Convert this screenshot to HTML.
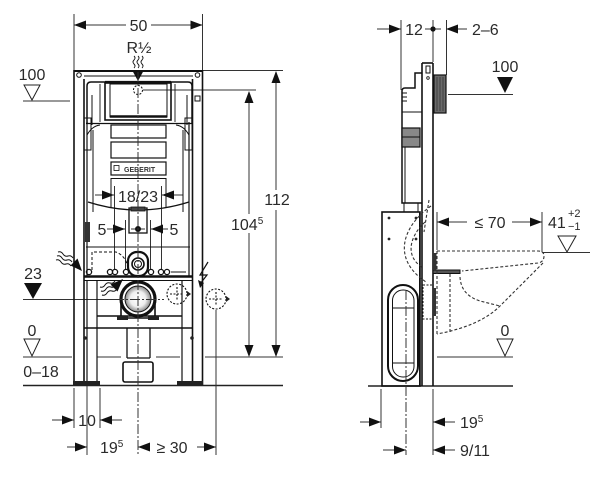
<!DOCTYPE html>
<html><head><meta charset="utf-8">
<style>
html,body{margin:0;padding:0;background:#fff;width:602px;height:478px;overflow:hidden}
svg text{font-family:"Liberation Sans",sans-serif;fill:#2a2a2a;font-size:16px}
</style></head>
<body>
<svg width="602" height="478" viewBox="0 0 602 478" xmlns="http://www.w3.org/2000/svg">
<defs>
<radialGradient id="pg" cx="0.5" cy="0.5" r="0.5">
<stop offset="0" stop-color="#fff"/><stop offset="0.6" stop-color="#eee"/><stop offset="1" stop-color="#888"/>
</radialGradient>
</defs>

<!-- ================= LEFT VIEW: DIMENSIONS ================= -->
<g stroke="#333" stroke-width="1" fill="none">
  <line x1="74" y1="14" x2="74" y2="70"/><line x1="202.5" y1="14" x2="202.5" y2="70"/>
  <line x1="74" y1="25" x2="126" y2="25"/><line x1="151" y1="25" x2="202" y2="25"/>
  <line x1="23" y1="101" x2="70" y2="101"/>
  <polygon points="24,85 40,85 32,100" stroke="#222"/>
  <line x1="203" y1="70.5" x2="283" y2="70.5"/>
  <line x1="276" y1="72" x2="276" y2="190"/><line x1="276" y1="210" x2="276" y2="355"/>
  <line x1="143" y1="90" x2="256" y2="90"/>
  <line x1="249" y1="92" x2="249" y2="214"/><line x1="249" y1="233" x2="249" y2="355"/>
  <line x1="23" y1="357" x2="72" y2="357"/><line x1="97" y1="357" x2="121" y2="357"/>
  <line x1="156" y1="357" x2="180" y2="357"/><line x1="205" y1="357" x2="283" y2="357"/>
  <polygon points="24,339 40,339 32,356" stroke="#222"/>
  <line x1="23" y1="385.5" x2="283" y2="385.5" stroke="#222" stroke-width="1.4"/>
  <line x1="23" y1="299.5" x2="114" y2="299.5"/>
  <line x1="74" y1="388" x2="74" y2="428"/><line x1="100" y1="388" x2="100" y2="428"/>
  <line x1="87" y1="386" x2="87" y2="455"/>
  <line x1="216" y1="310" x2="216" y2="455"/>
  <line x1="52" y1="420" x2="74" y2="420"/><line x1="100" y1="420" x2="122" y2="420"/>
  <line x1="67" y1="447" x2="87" y2="447"/>
  <line x1="138" y1="447" x2="147" y2="447"/><line x1="197" y1="447" x2="216" y2="447"/>
  <line x1="95" y1="195" x2="114" y2="195"/><line x1="162" y1="195" x2="183" y2="195"/>
  <line x1="114.5" y1="186" x2="114.5" y2="270"/><line x1="161.5" y1="186" x2="161.5" y2="270"/>
  <line x1="107" y1="229" x2="125" y2="229"/><line x1="151" y1="229" x2="168" y2="229"/>
  <line x1="131" y1="229" x2="145" y2="229"/>
  <line x1="125.5" y1="220" x2="125.5" y2="270"/><line x1="150.5" y1="220" x2="150.5" y2="270"/>
</g>
<g fill="#111" stroke="none">
  <polygon points="86,20.5 74,25 86,29.5"/><polygon points="190.5,20.5 202.5,25 190.5,29.5"/>
  <polygon points="271.5,83 276,71 280.5,83"/><polygon points="271.5,345 276,357 280.5,345"/>
  <polygon points="244.5,103 249,91 253.5,103"/><polygon points="244.5,345 249,357 253.5,345"/>
  <polygon points="24,283 42,283 33,299"/>
  <polygon points="62,415.5 74,420 62,424.5"/><polygon points="112,415.5 100,420 112,424.5"/>
  <polygon points="75,442.5 87,447 75,451.5"/>
  <polygon points="150,442.5 138,447 150,451.5"/><polygon points="204,442.5 216,447 204,451.5"/>
  <polygon points="102,190.5 114,195 102,199.5"/><polygon points="174,190.5 162,195 174,199.5"/>
  <polygon points="113,224.5 125,229 113,233.5"/><polygon points="163,224.5 151,229 163,233.5"/>
  <circle cx="138" cy="229" r="3"/>
  <polygon points="132,70 144,70 138,81"/>
</g>

<!-- ================= LEFT VIEW: FRAME ================= -->
<g stroke="#111" stroke-width="1.6" fill="none">
  <line x1="74" y1="70" x2="74" y2="385"/><line x1="84" y1="79" x2="84" y2="385"/>
  <line x1="192.5" y1="79" x2="192.5" y2="385"/><line x1="202.5" y1="70" x2="202.5" y2="385"/>
  <line x1="74" y1="71" x2="203" y2="71" stroke-width="2"/>
  <line x1="84" y1="76" x2="193" y2="76" stroke-width="1"/>
  <circle cx="79" cy="75" r="2.3" stroke-width="1"/><circle cx="197.5" cy="75" r="2.3" stroke-width="1"/>
  <rect x="195" y="96" width="5" height="5" stroke-width="1"/>
  <!-- top chamber -->
  <path d="M87,124 L87,86 Q87,82 91,82 L188,82 Q192,82 192,86 L192,124" stroke-width="1.5"/>
  <line x1="100" y1="84" x2="100" y2="122" stroke-width="0.9"/><line x1="175" y1="84" x2="175" y2="122" stroke-width="0.9"/>
  <rect x="105" y="83" width="66" height="37" stroke-width="1.6"/>
  <rect x="110" y="84" width="57" height="33" stroke-width="1"/>
  <line x1="110" y1="116.5" x2="167" y2="116.5" stroke-width="2.4"/>
  <line x1="105" y1="82" x2="171" y2="82" stroke-width="2.2"/>
  <line x1="92" y1="95" x2="92" y2="125" stroke-width="1"/><line x1="187" y1="95" x2="187" y2="125" stroke-width="1"/>
  <line x1="86" y1="123.5" x2="192" y2="123.5" stroke-width="1.2"/>
  <path d="M87,135 Q92,126 100,125" stroke-width="1"/><path d="M189,135 Q184,126 176,125" stroke-width="1"/>
  <!-- body -->
  <line x1="87" y1="122" x2="87" y2="277" stroke-width="1.2"/><line x1="93" y1="130" x2="93" y2="212" stroke-width="1"/>
  <line x1="189" y1="122" x2="189" y2="277" stroke-width="1.2"/><line x1="183" y1="130" x2="183" y2="212" stroke-width="1"/>
  <rect x="84" y="118" width="7" height="32" stroke-width="1"/><rect x="185" y="118" width="7" height="32" stroke-width="1"/>
  <rect x="111" y="125" width="55" height="13" stroke-width="1.2"/>
  <rect x="111" y="142" width="55" height="16" stroke-width="1.2"/>
  <rect x="111" y="162" width="55" height="13" stroke-width="1.2"/>
  <rect x="114" y="165.5" width="5" height="5" stroke-width="0.8"/>
  <line x1="111" y1="178.5" x2="166" y2="178.5" stroke-width="1"/>
  <line x1="111" y1="178" x2="111" y2="208" stroke-width="1"/><line x1="166" y1="178" x2="166" y2="208" stroke-width="1"/>
  <path d="M88,202 Q138,218 189,202" stroke-width="1.3"/>
  <rect x="129" y="208" width="18" height="25" stroke-width="1.3"/>
  <rect x="131" y="207" width="14" height="4" fill="#444" stroke-width="0.8"/>
  <line x1="86" y1="247" x2="190" y2="247" stroke-width="1"/>
  <line x1="84" y1="276.5" x2="193" y2="276.5" stroke-width="2.4"/>
  <line x1="84" y1="280.5" x2="193" y2="280.5" stroke-width="1"/>
  <line x1="97" y1="316" x2="182" y2="316" stroke-width="1.4"/>
  <line x1="84" y1="328" x2="193" y2="328" stroke-width="1.4"/>
  <line x1="87" y1="280" x2="87" y2="385" stroke-width="1.2"/><line x1="97" y1="280" x2="97" y2="385" stroke-width="1.2"/>
  <line x1="182" y1="280" x2="182" y2="385" stroke-width="1.2"/>
  <line x1="127" y1="328" x2="127" y2="358" stroke-width="1.3"/><line x1="150" y1="328" x2="150" y2="358" stroke-width="1.3"/>
  <line x1="127" y1="358" x2="150" y2="358" stroke-width="1.3"/>
  <rect x="123" y="362" width="30" height="20" rx="2" stroke-width="1.6"/>
  <g stroke-width="1.3">
    <circle cx="89" cy="272" r="2.6"/><circle cx="110" cy="272" r="2.6"/><circle cx="115" cy="272" r="2.6"/>
    <circle cx="126" cy="272" r="2.6"/><circle cx="151" cy="272" r="2.6"/><circle cx="161" cy="272" r="2.6"/><circle cx="167" cy="272" r="2.6"/>
  </g>
  <line x1="171" y1="272" x2="186" y2="272" stroke-width="1"/>
  <path d="M92,270 L92,252 L116,252 Q126,256 128,268" stroke-width="1" stroke-dasharray="3,2"/>
  <rect x="128" y="252" width="20" height="24" rx="9" fill="#fff" stroke-width="2.2"/>
  <circle cx="138" cy="264" r="6" stroke-width="1.6"/><circle cx="138" cy="264" r="3.5" stroke-width="1"/>
  <path d="M121,304 L121,318 L155,318 L155,304" stroke-width="1.6"/>
  <circle cx="138" cy="299" r="17" fill="#fff" stroke-width="3.2"/>
  <circle cx="138" cy="299" r="13" fill="url(#pg)" stroke-width="1"/>
  <rect x="117" y="316" width="11" height="4" fill="#222" stroke="none"/>
  <rect x="148" y="316" width="11" height="4" fill="#222" stroke="none"/>
  <rect x="73" y="381" width="27" height="4" fill="#222" stroke="none"/>
  <rect x="177" y="381" width="26" height="4" fill="#222" stroke="none"/>
  <circle cx="85" cy="338" r="1.8" fill="#222" stroke="none"/><circle cx="192" cy="338" r="1.8" fill="#222" stroke="none"/>
  <rect x="85" y="222" width="5" height="20" fill="#333" stroke="none"/>
  <g stroke-width="1.1" stroke-dasharray="2,1.5">
    <circle cx="177" cy="294" r="10"/><line x1="170" y1="294" x2="184" y2="294"/><line x1="177" y1="287" x2="177" y2="301"/>
    <circle cx="216" cy="299" r="10"/><line x1="209" y1="299" x2="223" y2="299"/><line x1="216" y1="292" x2="216" y2="306"/>
  </g>
  <polygon points="187,291 191,294 187,297" fill="#222" stroke="none"/>
  <polygon points="226,296 230,299 226,302" fill="#222" stroke="none"/>
  <polyline points="208,262 200,275 207,275 200,284" stroke-width="1.2"/>
  <path d="M58,252 q3,-1 5,2 q2,3 5,2 q3,-1 5,2 M57,256 q3,-1 5,2 q2,3 5,2 q3,-1 5,2 M56,260 q3,-1 5,2 q2,3 5,2 q3,-1 5,2" stroke-width="1"/>
  <path d="M100,287 q3,1 5,-2 q2,-3 5,-2 q3,1 5,-2 M101,291 q3,1 5,-2 q2,-3 5,-2 q3,1 5,-2 M102,295 q3,1 5,-2 q2,-3 5,-2 q3,1 5,-2" stroke-width="1"/>
  <path d="M134,56 q2,2 0,4 q-2,2 0,4 q2,2 0,4 M138,56 q2,2 0,4 q-2,2 0,4 q2,2 0,4 M142,56 q2,2 0,4 q-2,2 0,4 q2,2 0,4" stroke-width="0.9"/>
  <circle cx="138" cy="90" r="4.5" stroke-width="1" stroke-dasharray="2,1.5"/>
</g>
<g fill="#111">
  <polygon points="200,288 198,280 204,283"/>
  <polygon points="82,271 70.5,265.5 77.5,258.5"/>
  <polygon points="123,279 110.5,284.5 117.5,291.5"/>
</g>
<text x="124" y="172" style="font-size:7px;font-weight:bold;fill:#333">GEBERIT</text>
<g stroke="#333" stroke-width="1" stroke-dasharray="10,2,2,2" fill="none">
  <line x1="138" y1="72" x2="138" y2="455"/>
  <line x1="114" y1="299.5" x2="164" y2="299.5"/>
</g>

<text x="138.5" y="31" text-anchor="middle">50</text>
<text x="139" y="53" text-anchor="middle">R½</text>
<text x="32" y="80" text-anchor="middle">100</text>
<text x="277" y="205" text-anchor="middle">112</text>
<text x="231" y="230">104<tspan font-size="10" dy="-6">5</tspan></text>
<text x="138" y="202" text-anchor="middle">18/23</text>
<text x="102" y="235" text-anchor="middle">5</text>
<text x="174" y="235" text-anchor="middle">5</text>
<text x="33" y="279" text-anchor="middle">23</text>
<text x="32" y="336" text-anchor="middle">0</text>
<text x="41" y="377" text-anchor="middle">0–18</text>
<text x="87" y="426" text-anchor="middle">10</text>
<text x="100" y="453">19<tspan font-size="10" dy="-6">5</tspan></text>
<text x="172" y="453" text-anchor="middle">≥ 30</text>

<!-- ================= RIGHT VIEW ================= -->
<g stroke="#333" stroke-width="1" fill="none">
  <line x1="401" y1="20" x2="401" y2="90"/><line x1="433" y1="20" x2="433" y2="62"/><line x1="446.5" y1="20" x2="446.5" y2="75"/>
  <line x1="377" y1="29" x2="401" y2="29"/><line x1="425" y1="29" x2="441" y2="29"/><line x1="446" y1="29" x2="467" y2="29"/>
  <line x1="448" y1="94.5" x2="513" y2="94.5"/>
  <line x1="437" y1="212" x2="437" y2="250"/><line x1="542" y1="212" x2="542" y2="252"/>
  <line x1="437" y1="222" x2="467" y2="222"/><line x1="512" y1="222" x2="542" y2="222"/>
  <line x1="543" y1="252.5" x2="590" y2="252.5"/>
  <polygon points="558,236 576,236 567,252" stroke="#222"/>
  <line x1="437" y1="357" x2="513" y2="357"/>
  <polygon points="497,339 513,339 505,356" stroke="#222"/>
  <line x1="368" y1="386" x2="513" y2="386" stroke="#222" stroke-width="1.4"/>
  <line x1="381" y1="389" x2="381" y2="428"/><line x1="433" y1="389" x2="433" y2="455"/>
  <line x1="360" y1="422" x2="381" y2="422"/><line x1="433" y1="422" x2="455" y2="422"/>
  <line x1="383" y1="450" x2="406" y2="450"/><line x1="433" y1="450" x2="455" y2="450"/>
</g>
<g fill="#111">
  <polygon points="389,24.5 401,29 389,33.5"/><polygon points="458,24.5 446,29 458,33.5"/>
  <circle cx="433" cy="29" r="2.6"/>
  <polygon points="497,77 513,77 505,93"/>
  <polygon points="449,217.5 437,222 449,226.5"/><polygon points="530,217.5 542,222 530,226.5"/>
  <polygon points="369,417.5 381,422 369,426.5"/><polygon points="445,417.5 433,422 445,426.5"/>
  <polygon points="394,445.5 406,450 394,454.5"/><polygon points="445,445.5 433,450 445,454.5"/>
</g>
<g stroke="#111" stroke-width="1.6" fill="none">
  <line x1="422" y1="63" x2="422" y2="386"/><line x1="433" y1="63" x2="433" y2="386"/>
  <line x1="422" y1="63" x2="433" y2="63"/>
  <line x1="419.5" y1="212" x2="419.5" y2="386" stroke-width="1"/>
  <rect x="426" y="66" width="4" height="7" stroke-width="1"/>
  <circle cx="428" cy="78" r="1.3" stroke-width="0.8"/>
  <rect x="434" y="75" width="12" height="38" fill="#6a6a6a" stroke-width="1.2"/>
  <g stroke="#333" stroke-width="0.8">
    <line x1="437" y1="77" x2="437" y2="111"/><line x1="440" y1="77" x2="440" y2="111"/><line x1="443" y1="77" x2="443" y2="111"/>
  </g>
  <path d="M422,73 L415,73 L415,88 L405,88 Q402,88 402,91 L402,203 L422,203" stroke-width="1.5"/>
  <line x1="402" y1="112" x2="422" y2="112" stroke-width="1"/>
  <rect x="402" y="128" width="18" height="19" fill="#888" stroke-width="1.2"/>
  <line x1="402" y1="137" x2="420" y2="137" stroke-width="1"/>
  <line x1="405" y1="147" x2="405" y2="203" stroke-width="1"/>
  <g stroke-width="1"><line x1="402" y1="93" x2="407" y2="93"/><line x1="402" y1="97" x2="407" y2="97"/><line x1="402" y1="101" x2="407" y2="101"/></g>
  <rect x="404" y="203" width="14" height="9" stroke-width="1"/>
  <rect x="382" y="212" width="38" height="174" stroke-width="1.6"/>
  <rect x="388" y="285" width="30" height="96" rx="15" stroke-width="2"/>
  <rect x="392.5" y="290" width="21.5" height="87" rx="10.5" stroke-width="1"/>
  <line x1="392" y1="308" x2="414" y2="308" stroke-width="1"/>
  <line x1="392" y1="363" x2="414" y2="363" stroke-width="1"/>
  <rect x="433" y="270" width="27" height="3.5" fill="#555" stroke-width="1"/>
  <rect x="433" y="253" width="3.5" height="17" fill="#333" stroke="none"/>
  <rect x="423" y="285" width="10" height="34" fill="none" stroke-width="1" stroke-dasharray="2,1.5"/>
  <rect x="433" y="288" width="3" height="28" fill="#333" stroke="none"/>
</g>
<g fill="#222">
  <circle cx="389" cy="218" r="1.4"/><circle cx="416" cy="218" r="1.4"/>
  <circle cx="389" cy="239" r="1.4"/><circle cx="416" cy="239" r="1.4"/>
</g>
<g stroke="#333" stroke-width="1.1" fill="none" stroke-dasharray="3,2">
  <path d="M431,206 C404,225 390,258 426,282"/>
  <path d="M425,222 C410,236 404,256 423,268"/>
  <line x1="429" y1="200" x2="424" y2="232"/>
  <path d="M437,251 L538,251 Q544,251 544,256 Q544,262 538,263 L462,271"/>
  <path d="M543,263 L500,306 Q480,326 437,334"/>
  <path d="M460,277 Q461,295 480,301 L500,306"/>
  <line x1="450" y1="274" x2="450" y2="332"/>
  <line x1="437" y1="251" x2="437" y2="335"/>
</g>
<line x1="406" y1="290" x2="406" y2="455" stroke="#333" stroke-width="1" stroke-dasharray="10,2,2,2"/>

<text x="414" y="35" text-anchor="middle">12</text>
<text x="472" y="35">2–6</text>
<text x="505" y="72" text-anchor="middle">100</text>
<text x="490" y="228" text-anchor="middle">≤ 70</text>
<text x="548" y="228">41</text>
<text x="568" y="217" style="font-size:11px">+2</text>
<text x="568" y="230" style="font-size:11px">−1</text>
<text x="505" y="336" text-anchor="middle">0</text>
<text x="460" y="428">19<tspan font-size="10" dy="-6">5</tspan></text>
<text x="460" y="456">9/11</text>
</svg>
</body></html>
